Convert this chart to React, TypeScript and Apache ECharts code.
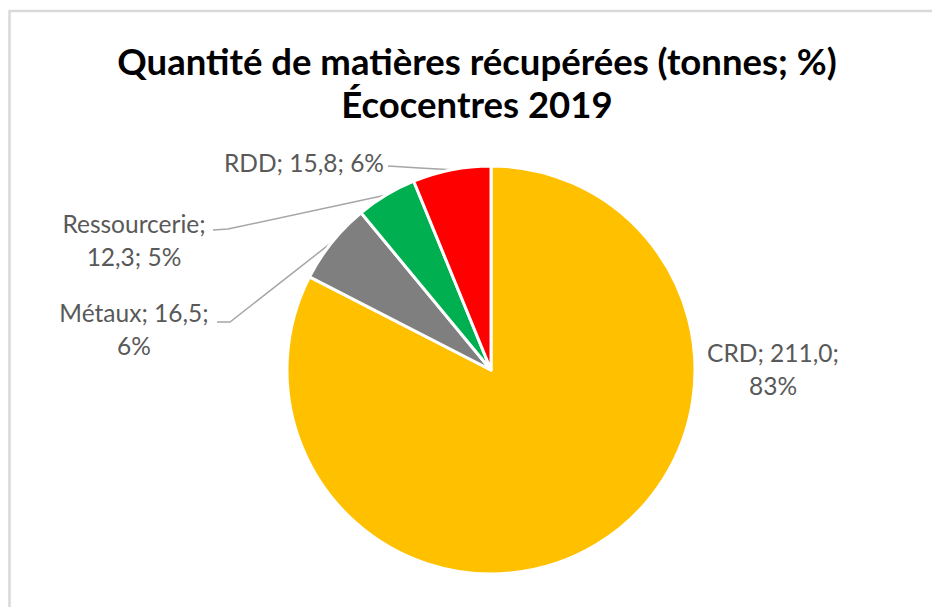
import React, { useEffect, useRef } from "react";
import * as echarts from "echarts";

const categories = ["CRD", "Métaux", "Ressourcerie", "RDD"];
const tonnes = [211.0, 16.5, 12.3, 15.8];
const colors = ["#FFC000", "#7F7F7F", "#00B050", "#FF0000"];
// where Excel wrapped each label (index of the part after which a line break occurs; -1 = none)
const wrapAfter = [1, 1, 0, -1];
const titleLines = ["Quantité de matières récupérées (tonnes; %)", "Écocentres 2019"];

// label placement (layout only)
const labelPlace: Record<string, { x: number; y: number; end?: number[]; bend?: number[] }> = {
  CRD: { x: 773, y: 369 },
  "Métaux": { x: 134, y: 329, end: [217, 322], bend: [230, 322] },
  Ressourcerie: { x: 134, y: 240, end: [213, 230], bend: [228, 229] },
  RDD: { x: 304, y: 162, end: [388, 166] },
};

const FONT = "Lato, 'Noto Sans', sans-serif";

export default function App() {
  const ref = useRef<HTMLDivElement>(null);
  useEffect(() => {
    if (!ref.current) return;
    document.body.style.margin = "0";
    const chart = echarts.init(ref.current, undefined, { renderer: "svg" });
    const data = categories.map((name, i) => ({
      name,
      value: tonnes[i],
      itemStyle: { color: colors[i] },
      labelLine: { show: name !== "CRD" },
    }));
    chart.setOption({
      animation: false,
      backgroundColor: "#ffffff",
      graphic: [
        {
          type: "polyline",
          shape: { points: [[9.5, 607], [9.5, 11], [932, 11]] },
          style: { stroke: "#d9d9d9", lineWidth: 2.5, fill: "none" },
          silent: true,
        },
        {
          type: "text",
          style: {
            x: 477,
            y: 61,
            text: titleLines[0],
            align: "center",
            verticalAlign: "middle",
            font: `bold 36.5px ${FONT}`,
            fill: "#000000",
          },
        },
        {
          type: "text",
          style: {
            x: 477,
            y: 104,
            text: titleLines[1],
            align: "center",
            verticalAlign: "middle",
            font: `bold 36.5px ${FONT}`,
            fill: "#000000",
          },
        },
      ],
      series: [
        {
          type: "pie",
          center: [491, 370],
          radius: 204,
          startAngle: 90,
          clockwise: true,
          avoidLabelOverlap: false,
          percentPrecision: 0,
          itemStyle: { borderColor: "#ffffff", borderWidth: 3 },
          label: {
            show: true,
            position: "outside",
            color: "#595959",
            fontFamily: FONT,
            fontSize: 24.5,
            lineHeight: 33,
            align: "center",
            formatter: (p: any) => {
              const idx = p.dataIndex;
              const parts = [p.name, p.value.toFixed(1).replace(".", ","), p.percent + "%"];
              let s = "";
              parts.forEach((t, k) => {
                s += t;
                if (k < parts.length - 1) s += ";" + (k === wrapAfter[idx] ? "\n" : " ");
              });
              return s;
            },
          },
          labelLine: {
            show: true,
            lineStyle: { color: "#a6a6a6", width: 1.5 },
          },
          labelLayout: (params: any) => {
            const name = categories[params.dataIndex];
            const pl = labelPlace[name];
            const out: any = { x: pl.x, y: pl.y, align: "center", verticalAlign: "middle" };
            if (pl.end && params.labelLinePoints) {
              const p0 = params.labelLinePoints[0];
              const bend = pl.bend || [(p0[0] + pl.end[0]) / 2, (p0[1] + pl.end[1]) / 2];
              out.labelLinePoints = [p0, bend, pl.end];
            }
            return out;
          },
          data,
        },
      ],
    });
    return () => chart.dispose();
  }, []);
  return <div ref={ref} style={{ width: 932, height: 607 }} />;
}
